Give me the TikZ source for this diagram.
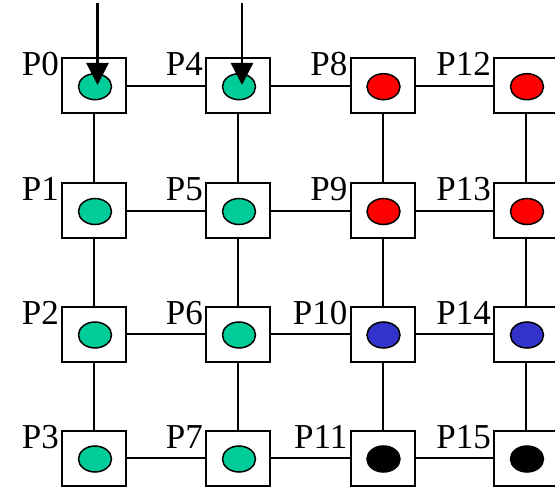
\documentclass[tikz,border=0pt]{standalone}
\usepackage{fontspec}
\setmainfont{Liberation Serif}
\usetikzlibrary{shapes.geometric,arrows.meta,calc}
\definecolor{cgreen}{RGB}{0,204,153}
\definecolor{cred}{RGB}{255,0,0}
\definecolor{cblue}{RGB}{51,51,204}
\definecolor{cblack}{RGB}{0,0,0}
\tikzset{
  pbox/.style={draw=black, fill=white, line width=2pt, minimum width=64pt, minimum height=55pt, inner sep=0pt},
  dot/.style={ellipse, draw=black, line width=1.5pt, minimum width=33pt, minimum height=26pt, inner sep=0pt},
  link/.style={line width=2pt, black},
  lbl/.style={anchor=base east, inner sep=0pt, font=\fontsize{35}{40}\selectfont},
  feed/.style={line width=2.4pt, -{Triangle[length=22pt,width=22pt]}}
}
\begin{document}
\begin{tikzpicture}[x=1pt,y=-1pt]
\useasboundingbox (0,0) rectangle (555,487);
% connectors first
\foreach \c/\xx in {0/94,1/238,2/382.5,3/526}{
  \foreach \r/\yy in {0/85.7,1/210.5,2/334,3/458}{
    \coordinate (c\c\r) at (\xx,\yy);
  }
}
\foreach \c in {0,1,2,3}{
  \draw[link] (c\c0) -- (c\c1) -- (c\c2) -- (c\c3);
}
\foreach \r in {0,1,2,3}{
  \draw[link] (c0\r) -- (c1\r) -- (c2\r) -- (c3\r);
}
% boxes, dots, labels
\foreach \c/\col in {0/cgreen,1/cgreen,2/cred,3/cred}{
  \foreach \r in {0,1}{
    \pgfmathtruncatemacro{\n}{4*\c+\r}
    \node[pbox] (b\n) at (c\c\r) {};
    \node[dot, fill=\col] (e\n) at ($(c\c\r)+(1,1)$) {};
    \node[lbl] (l\n) at ($(b\n.north west)+(-2,18.5)$) {P\n};
  }
}
\foreach \c/\col in {0/cgreen,1/cgreen,2/cblue,3/cblue}{
  \foreach \r in {2}{
    \pgfmathtruncatemacro{\n}{4*\c+\r}
    \node[pbox] (b\n) at (c\c\r) {};
    \node[dot, fill=\col] (e\n) at ($(c\c\r)+(1,1)$) {};
    \node[lbl] (l\n) at ($(b\n.north west)+(-2,18.5)$) {P\n};
  }
}
\foreach \c/\col in {0/cgreen,1/cgreen,2/cblack,3/cblack}{
  \foreach \r in {3}{
    \pgfmathtruncatemacro{\n}{4*\c+\r}
    \node[pbox] (b\n) at (c\c\r) {};
    \node[dot, fill=\col] (e\n) at ($(c\c\r)+(1,1)$) {};
    \node[lbl] (l\n) at ($(b\n.north west)+(-2,18.5)$) {P\n};
  }
}
% input arrows
\coordinate (s0) at (97.5,3);
\coordinate (t0) at (97.5,85);
\coordinate (s4) at (242,3);
\coordinate (t4) at (242,85);
\draw[feed] (s0) -- (t0);
\draw[feed] (s4) -- (t4);
\end{tikzpicture}
\end{document}
